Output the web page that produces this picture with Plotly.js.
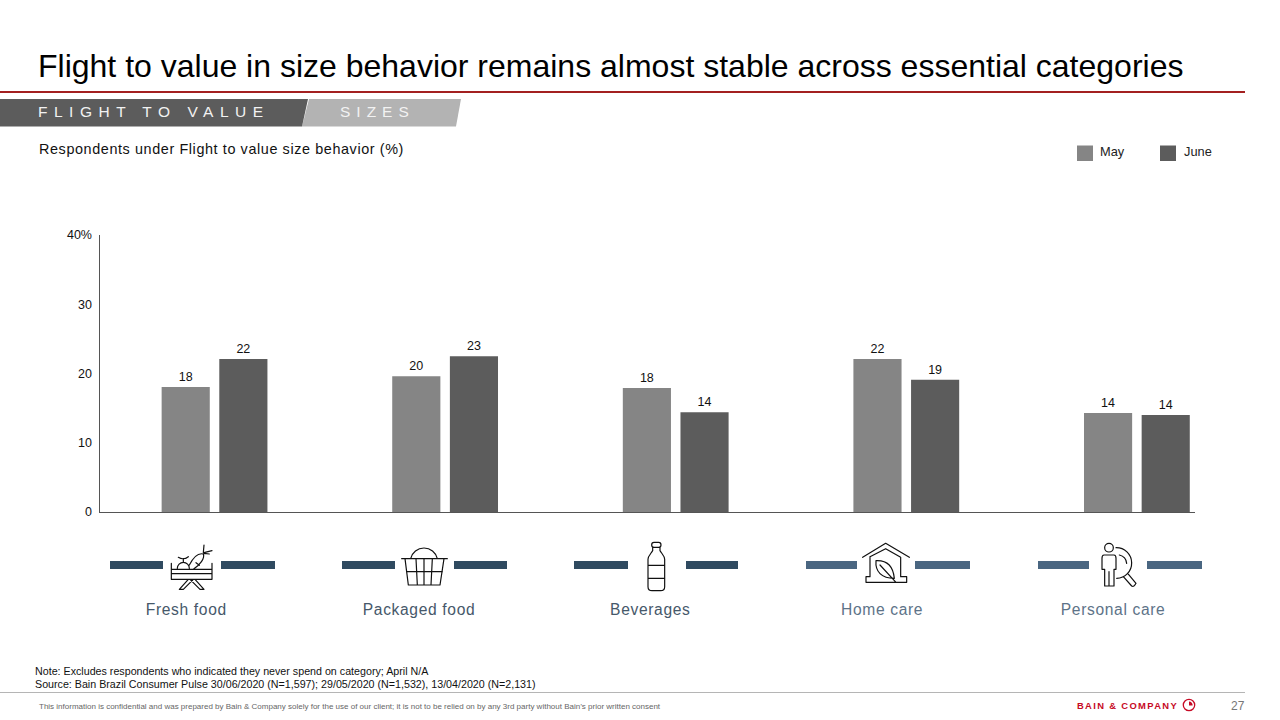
<!DOCTYPE html>
<html><head><meta charset="utf-8">
<script src="https://cdn.plot.ly/plotly-3.0.1.min.js"></script>
<style>
html,body{margin:0;padding:0;background:#fff}
#chart{width:1280px;height:720px}
.annotation[data-index="1"] text{letter-spacing:6.5px}
.annotation[data-index="2"] text{letter-spacing:6px}
.annotation[data-index="3"] text{letter-spacing:.6px}
.annotation[data-index="6"] text,.annotation[data-index="7"] text,.annotation[data-index="8"] text,.annotation[data-index="9"] text,.annotation[data-index="10"] text{letter-spacing:.65px}
.annotation[data-index="13"] text{letter-spacing:1.35px}
</style></head><body><div id="chart"></div>
<script>
const categories=["Fresh food","Packaged food","Beverages","Home care","Personal care"];
const seriesNames=["May","June"];
const mayValues=[18.05,19.6,17.9,22.1,14.3];
const juneValues=[22.1,22.5,14.4,19.1,14.0];
const mayLabels=["18","20","18","22","14"];
const juneLabels=["22","23","14","19","14"];
const yTickValues=[0,10,20,30,40];
const yTickLabels=["0","10","20","30","40%"];

const W=1280,H=720,L=100,R=85,T=235,B=208;
const pw=W-L-R,ph=H-T-B;
const px=x=>(x-L)/pw, py=y=>(H-B-y)/ph;
const note=(text,x,y,size,color,anchor,extra)=>Object.assign({text,xref:'paper',yref:'paper',x:px(x),y:py(y),
  xanchor:anchor||'left',align:anchor||'left',yanchor:'middle',showarrow:false,borderpad:0,borderwidth:0,
  font:{family:'Liberation Sans, Arial, sans-serif',size,color}},extra||{});

const catX=[186,418.5,650,881.5,1113];
const catColors=['#46586a','#46586a','#46586a','#5d7388','#5d7388'];
const annotations=[
 note('Flight to value in size behavior remains almost stable across essential categories',38,66,32,'#000'),
 note('FLIGHT TO VALUE',38,111.7,15.5,'#f2f2f2'),
 note('SIZES',340,111.7,15.5,'#f2f2f2'),
 note('Respondents under Flight to value size behavior (%)',38.5,149,14.4,'#111'),
 note('Note: Excludes respondents who indicated they never spend on category; April N/A',34.5,670.5,10.7,'#111'),
 note('Source: Bain Brazil Consumer Pulse 30/06/2020 (N=1,597); 29/05/2020 (N=1,532), 13/04/2020 (N=2,131)',34.5,683.5,10.7,'#111')
];
categories.forEach((c,i)=>annotations.push(note(c,catX[i],609.5,15.6,catColors[i],'center')));
annotations.push(
 note('May',1100,151.2,12.8,'#222'),
 note('June',1183.5,151.2,12.8,'#222'),
 note('BAIN & COMPANY',1077,705,9.4,'#c70a25','left',{font:{family:'Liberation Sans, Arial, sans-serif',size:9.4,color:'#c70a25',weight:700}}),
 note('This information is confidential and was prepared by Bain & Company solely for the use of our client; it is not to be relied on by any 3rd party without Bain’s prior written consent',38.5,706.5,8,'#666'),
 note('27',1245,705.5,12,'#777','right')
);

const rect=(x0,y0,x1,y1,color)=>({type:'rect',xref:'paper',yref:'paper',x0:px(x0),x1:px(x1),y0:py(y0),y1:py(y1),fillcolor:color,line:{width:0},layer:'below'});
const poly=(pts,color)=>({type:'path',xref:'paper',yref:'paper',layer:'below',fillcolor:color,line:{width:0},
  path:'M'+pts.map(p=>px(p[0])+','+py(p[1])).join('L')+'Z'});
const dashes=[[110,163],[221,275],[342,395],[454,507],[574,628],[686,738],[806,857],[915,970],[1038,1089],[1147,1202]];
const shapes=[
 rect(0,91,1245,93,'#a32020'),
 poly([[302,126.5],[309,99],[461,99],[456,126.5]],'#b3b3b3'),
 poly([[0,99],[308,99],[302,126.5],[0,126.5]],'#5c5c5c'),
 rect(1077,145.5,1093,161,'#858585'),
 rect(1160,145.5,1176,161,'#5c5c5c'),
 rect(0,692,1245,693,'#b5b5b5')
];
dashes.forEach((d,i)=>shapes.push(rect(d[0],561,d[1],569,i<6?'#2f4a60':'#4a6681')));

const icons=[
 {crop:[100,530],box:[205,35,140,150],sw:3.6,d:'M214 118H336V148H214Z M214 131H336 M214 100V148 M336 100V148 M238 178L265 148 M250 178L280 148 M238 178H250 M312 178L285 148 M300 178L270 148 M300 178H312 M232 115A18 18 0 0 1 268 115 M250 97V86 M235 82C245 88 255 88 265 80 M268 105C280 82 295 68 310 72C315 85 300 105 280 118 M310 68L312 45 M312 68L336 62 M312 70L328 72 M288 98L298 106'},
 {crop:[100,530],box:[895,35,155,140],sw:3.6,d:'M905 86H1042 M915 86L925 165H1020L1032 86 M932 86A41 41 0 0 1 1012 86 M948 86L952 165 M972 86V165 M997 86L993 165 M921 125H1027'},
 {crop:[560,530],box:[255,30,70,160],sw:3.6,d:'M282 37H296Q303 37 303 45Q303 52 296 52H282Q275 52 275 45Q275 37 282 37Z M278 52V62C272 72 264 78 264 88V170Q264 182 276 182H302Q314 182 314 170V88C314 78 306 72 300 62V52 M264 106H314 M264 145H314'},
 {crop:[560,530],box:[900,32,155,132],sw:3.6,d:'M908 82L977 40L1048 82 M930 80L977 56L1022 82V140 M930 80V140 M930 140H918V157H1040V140H1022 M948 92C985 90 1000 115 1003 145C965 145 945 125 948 92Z M960 105L1008 157'},
 {crop:[1000,530],box:[298,32,118,145],sw:3.6,d:'M340 53A13 13 0 1 1 314 53A13 13 0 1 1 340 53Z M312 75H342Q348 75 348 85V118H342V168H314V118H306V85Q306 75 312 75Z M327 125V168 M348 53A45 45 0 0 1 350 145 M358 75A28 28 0 0 1 380 100 M370 140L395 168Q402 172 408 160L383 130'}
];
const svgUri=(box,body)=>'data:image/svg+xml;charset=utf-8,'+encodeURIComponent(
 `<svg xmlns="http://www.w3.org/2000/svg" viewBox="${box.join(' ')}" width="${box[2]}" height="${box[3]}">${body}</svg>`);
const images=icons.map(ic=>{
 const x=ic.crop[0]+ic.box[0]/3,y=ic.crop[1]+ic.box[1]/3;
 return {source:svgUri(ic.box,`<path d="${ic.d}" fill="none" stroke="#111" stroke-width="${ic.sw}" stroke-linejoin="round" stroke-linecap="round"/>`),
  xref:'paper',yref:'paper',x:px(x),y:py(y),sizex:ic.box[2]/3/pw,sizey:ic.box[3]/3/ph,sizing:'stretch',xanchor:'left',yanchor:'top',layer:'above'};
});
images.push({source:svgUri([0,0,14,14],'<circle cx="7" cy="7" r="5.7" fill="none" stroke="#c70a25" stroke-width="1.3"/><path d="M7 7.6V3.4A3.8 3.8 0 0 1 10.6 7.6Z" fill="#c70a25"/>'),
 xref:'paper',yref:'paper',x:px(1182),y:py(698),sizex:14/pw,sizey:14/ph,sizing:'stretch',xanchor:'left',yanchor:'top',layer:'above'});

const barFont={family:'Liberation Sans, Arial, sans-serif',size:12.5,color:'#111'};
const data=[
 {type:'bar',name:seriesNames[0],x:categories,y:mayValues,text:mayLabels,textposition:'outside',textangle:0,cliponaxis:false,textfont:barFont,marker:{color:'#858585',line:{width:0}},hoverinfo:'x+y+name'},
 {type:'bar',name:seriesNames[1],x:categories,y:juneValues,text:juneLabels,textposition:'outside',textangle:0,cliponaxis:false,textfont:barFont,marker:{color:'#5c5c5c',line:{width:0}},hoverinfo:'x+y+name'}
];
const layout={
 width:W,height:H,paper_bgcolor:'#fff',plot_bgcolor:'#fff',showlegend:false,
 margin:{l:L,r:R,t:T,b:B,pad:0},barmode:'group',bargap:0.5,bargroupgap:0.165,
 xaxis:{type:'category',categoryorder:'array',categoryarray:categories,range:[-0.4967,4.252],showticklabels:false,ticks:'',showgrid:false,zeroline:false,showline:true,linecolor:'#555',linewidth:1},
 yaxis:{range:[0,40],tickmode:'array',tickvals:yTickValues,ticktext:yTickLabels,ticks:'',showgrid:false,zeroline:false,showline:true,linecolor:'#555',linewidth:1.5,ticklabelstandoff:4,
  tickfont:{family:'Liberation Sans, Arial, sans-serif',size:12.5,color:'#111'}},
 annotations,shapes,images
};
Plotly.newPlot('chart',data,layout,{displayModeBar:false,staticPlot:true});
</script></body></html>
